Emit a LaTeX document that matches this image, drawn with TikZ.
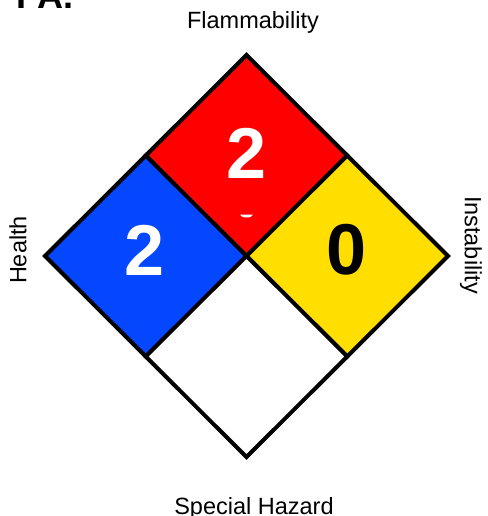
\documentclass[tikz,border=0pt]{standalone}
\usepackage{fontspec}
\setmainfont{Liberation Sans}
\usetikzlibrary{calc}
\definecolor{nfpablue}{RGB}{5,70,255}
\definecolor{nfpared}{RGB}{255,0,0}
\definecolor{nfpayellow}{RGB}{255,222,0}
\tikzset{
  hazlabel/.style={font=\fontsize{23.5}{25}\selectfont},
  haznum/.style={font=\fontsize{72}{74}\selectfont\bfseries}
}
\begin{document}
\begin{tikzpicture}[x=1pt,y=-1pt]
                \useasboundingbox (0,0) rectangle (487,516);
                % corners
                \coordinate (top) at (246.5,55);
                \coordinate (left) at (45,256);
                \coordinate (right) at (448,256);
                \coordinate (bot) at (246.5,457);
                \coordinate (mid) at (246.5,256);
                \coordinate (tl) at ($(top)!0.5!(left)$);
                \coordinate (tr) at ($(top)!0.5!(right)$);
                \coordinate (bl) at ($(bot)!0.5!(left)$);
                \coordinate (br) at ($(bot)!0.5!(right)$);
                % quarters
                \filldraw [fill=nfpared, line width=4pt, line join=miter] (top) -- (tr) -- (mid) -- (tl) -- cycle;
                \filldraw [fill=nfpablue, line width=4pt, line join=miter] (tl) -- (mid) -- (bl) -- (left) -- cycle;
                \filldraw [fill=nfpayellow, line width=4pt, line join=miter] (tr) -- (right) -- (br) -- (mid) -- cycle;
                \filldraw [fill=white, line width=4pt, line join=miter] (mid) -- (br) -- (bot) -- (bl) -- cycle;
                % numbers
                \node [haznum, text=white] (flam) at (246.5,153) {2};
                \node [haznum, text=white] (health) at (145,250) {2};
                \node [haznum, text=black] (inst) at (347,250) {0};
                \fill [white] (240,214.5) arc (180:0:6.5 and 3) -- cycle;
                % labels
                \node [hazlabel] (flamlab) at (253,22) {Flammability};
                \node [hazlabel, rotate=90] (healthlab) at (18,250) {Health};
                \node [hazlabel, rotate=-90] (instlab) at (471,245) {Instability};
                \node [hazlabel] (speclab) at (254,508) {Special Hazard};
                \node [font=\fontsize{36}{38}\selectfont\bfseries, anchor=base west] (title) at (13,9) {PA.};
\end{tikzpicture}
\end{document}
